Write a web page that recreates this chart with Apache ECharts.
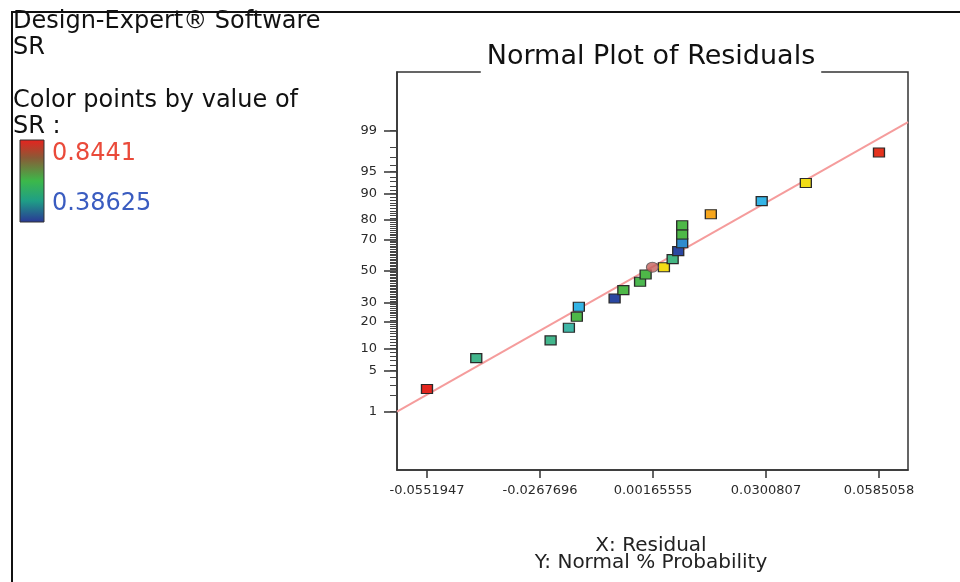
<!DOCTYPE html>
<html>
<head>
<meta charset="utf-8">
<title>Normal Plot of Residuals</title>
<script src="https://cdn.jsdelivr.net/npm/echarts@6.0.0/dist/echarts.min.js"></script>
<style>
    html, body { margin: 0; padding: 0; background: #fff; }
    #chart { width: 960px; height: 582px; }
</style>
</head>
<body>
<div id="chart"></div>
<script>
    // residuals (x) and normal % probability (y)
    var residuals = [-0.0552, -0.0428, -0.0241, -0.0195, -0.0175, -0.0170, -0.0080, -0.0058, -0.0016, -0.0002,
                     0.0044, 0.0066, 0.0080, 0.0090, 0.0090, 0.0090, 0.0162, 0.0290, 0.0401, 0.0585];
    var probPct = [2.55, 7.49, 12.57, 17.4, 22.45, 27.7, 32.5, 37.6, 42.9, 47.7,
                   52.5, 57.8, 62.9, 67.7, 72.7, 77.5, 82.6, 87.6, 92.7, 97.5];
    // SR value used to colour each square
    var srValues = [0.8441, 0.53, 0.53, 0.515, 0.57, 0.478, 0.39, 0.57, 0.565, 0.57,
                    0.661, 0.535, 0.39, 0.445, 0.57, 0.57, 0.75, 0.478, 0.66, 0.835];
    // the single round marker
    var circleResid = [0.0015];
    var circlePct = [52.5];

    // fitted normal line end points
    var fitResid = [-0.06274, 0.0658];
    var fitPct = [1.0, 99.31];

    var xTicks = [-0.0551947, -0.0267696, 0.00165555, 0.0300807, 0.0585058];
    var xTickLabels = ['-0.0551947', '-0.0267696', '0.00165555', '0.0300807', '0.0585058'];
    var yTickPct = [1, 5, 10, 20, 30, 50, 70, 80, 90, 95, 99];

    var srMin = 0.38625, srMax = 0.8441;

    // inverse standard normal cdf (Acklam)
    function probit(p) {
        var a = [-3.969683028665376e+01, 2.209460984245205e+02, -2.759285104469687e+02, 1.383577518672690e+02, -3.066479806614716e+01, 2.506628277459239e+00];
        var b = [-5.447609879822406e+01, 1.615858368580409e+02, -1.556989798598866e+02, 6.680131188771972e+01, -1.328068155288572e+01];
        var c = [-7.784894002430293e-03, -3.223964580411365e-01, -2.400758277161838e+00, -2.549671464963580e+00, 4.374664141464968e+00, 2.938163982698783e+00];
        var d = [7.784695709041462e-03, 3.224671290700398e-01, 2.445134137142996e+00, 3.754408661907416e+00];
        var pl = 0.02425, q, r;
        if (p < pl) {
            q = Math.sqrt(-2 * Math.log(p));
            return (((((c[0]*q+c[1])*q+c[2])*q+c[3])*q+c[4])*q+c[5]) / ((((d[0]*q+d[1])*q+d[2])*q+d[3])*q+1);
        }
        if (p <= 1 - pl) {
            q = p - 0.5; r = q * q;
            return (((((a[0]*r+a[1])*r+a[2])*r+a[3])*r+a[4])*r+a[5])*q / (((((b[0]*r+b[1])*r+b[2])*r+b[3])*r+b[4])*r+1);
        }
        q = Math.sqrt(-2 * Math.log(1 - p));
        return -(((((c[0]*q+c[1])*q+c[2])*q+c[3])*q+c[4])*q+c[5]) / ((((d[0]*q+d[1])*q+d[2])*q+d[3])*q+1);
    }
    function z(pct) { return probit(pct / 100); }

    var majorZ = yTickPct.map(z);
    var minorZ = [];
    for (var k = 1; k <= 99; k++) minorZ.push(z(k));

    var squares = residuals.map(function (x, i) { return [x, z(probPct[i]), srValues[i]]; });
    var circles = circleResid.map(function (x, i) { return [x, z(circlePct[i])]; });
    var fitLine = fitResid.map(function (x, i) { return [x, z(fitPct[i])]; });

    var yMin = -3.29, yMax = 3.29;
    var font = 'DejaVu Sans';

    var chart = echarts.init(document.getElementById('chart'));
    chart.setOption({
        backgroundColor: '#fff',
        animation: false,
        textStyle: { fontFamily: font },
        grid: {
            left: 397, top: 72, width: 511, height: 398,
            show: true, borderColor: '#333', borderWidth: 1.5
        },
        visualMap: {
            show: false,
            type: 'continuous',
            seriesIndex: 1,
            dimension: 2,
            min: srMin,
            max: srMax,
            inRange: { color: ['#2a429f', '#34b4e6', '#4db848', '#f3dc16', '#f6a41d', '#e3261e'] }
        },
        xAxis: {
            type: 'value',
            min: -0.06274,
            max: 0.0658,
            splitLine: { show: false },
            axisLine: { onZero: false, lineStyle: { color: '#333', width: 1.5 } },
            axisTick: { customValues: xTicks, length: 8, lineStyle: { color: '#333', width: 1.5 } },
            axisLabel: {
                customValues: xTicks,
                margin: 14,
                fontSize: 13,
                color: '#2a2a2a',
                formatter: function (v) {
                    for (var i = 0; i < xTicks.length; i++) {
                        if (Math.abs(xTicks[i] - v) < 1e-9) return xTickLabels[i];
                    }
                    return '';
                }
            }
        },
        yAxis: [{
            type: 'value',
            min: yMin,
            max: yMax,
            splitLine: { show: false },
            axisLine: { onZero: false, lineStyle: { color: '#333', width: 1.5 } },
            axisTick: { customValues: majorZ, length: 13, lineStyle: { color: '#333', width: 1.5 } },
            axisLabel: {
                customValues: majorZ,
                margin: 20,
                fontSize: 13,
                color: '#2a2a2a',
                formatter: function (v) {
                    for (var i = 0; i < majorZ.length; i++) {
                        if (Math.abs(majorZ[i] - v) < 1e-6) return String(yTickPct[i]);
                    }
                    return '';
                }
            }
        }, {
            type: 'value',
            position: 'left',
            min: yMin,
            max: yMax,
            splitLine: { show: false },
            axisLine: { show: false, onZero: false },
            axisTick: { customValues: minorZ, length: 7, lineStyle: { color: '#444', width: 1 } },
            axisLabel: { show: false }
        }],
        series: [{
            type: 'line',
            data: fitLine,
            symbol: 'none',
            lineStyle: { color: '#f59c9c', width: 2 },
            z: 1,
            silent: true
        }, {
            type: 'scatter',
            data: squares,
            symbol: 'rect',
            symbolSize: [11, 9],
            itemStyle: { borderColor: '#2a2a2a', borderWidth: 1.2, opacity: 1 },
            z: 3
        }, {
            type: 'scatter',
            data: circles,
            symbol: 'circle',
            symbolSize: [12, 10],
            itemStyle: { color: '#c4625c', borderColor: '#555', borderWidth: 1 },
            z: 3
        }],
        graphic: [
            // outer frame
            { type: 'polyline', shape: { points: [[12, 582], [12, 12], [960, 12]] },
              style: { stroke: '#111', lineWidth: 2, fill: null }, silent: true },
            // title, its white background breaks the plot frame
            { type: 'text', x: 651, y: 57, z: 100,
              style: { text: 'Normal Plot of Residuals', font: '27px "DejaVu Sans"', fill: '#111',
                       align: 'center', verticalAlign: 'middle', backgroundColor: '#fff', padding: [3, 6, 3, 6] } },
            { type: 'text', x: 13, y: 22,
              style: { text: 'Design-Expert® Software', font: '24px "DejaVu Sans"', fill: '#111', verticalAlign: 'middle' } },
            { type: 'text', x: 13, y: 48,
              style: { text: 'SR', font: '24px "DejaVu Sans"', fill: '#111', verticalAlign: 'middle' } },
            { type: 'text', x: 13, y: 101,
              style: { text: 'Color points by value of', font: '24px "DejaVu Sans"', fill: '#111', verticalAlign: 'middle' } },
            { type: 'text', x: 13, y: 127,
              style: { text: 'SR :', font: '24px "DejaVu Sans"', fill: '#111', verticalAlign: 'middle' } },
            // colour key
            { type: 'rect', shape: { x: 20, y: 140, width: 24, height: 82 },
              style: {
                  stroke: '#333', lineWidth: 1,
                  fill: new echarts.graphic.LinearGradient(0, 0, 0, 1, [
                      { offset: 0, color: '#e8221e' },
                      { offset: 0.22, color: '#8a5a36' },
                      { offset: 0.5, color: '#3cb84a' },
                      { offset: 0.74, color: '#1f9e86' },
                      { offset: 1, color: '#2a3696' }
                  ])
              } },
            { type: 'text', x: 52, y: 154,
              style: { text: String(srMax), font: '24px "DejaVu Sans"', fill: '#ea4a3a', verticalAlign: 'middle' } },
            { type: 'text', x: 52, y: 204,
              style: { text: String(srMin), font: '24px "DejaVu Sans"', fill: '#3a5cc0', verticalAlign: 'middle' } },
            // axis names
            { type: 'text', x: 651, y: 546,
              style: { text: 'X: Residual', font: '20px "DejaVu Sans"', fill: '#222', align: 'center', verticalAlign: 'middle' } },
            { type: 'text', x: 651, y: 563,
              style: { text: 'Y: Normal % Probability', font: '20px "DejaVu Sans"', fill: '#222', align: 'center', verticalAlign: 'middle' } }
        ]
    });
</script>
</body>
</html>
